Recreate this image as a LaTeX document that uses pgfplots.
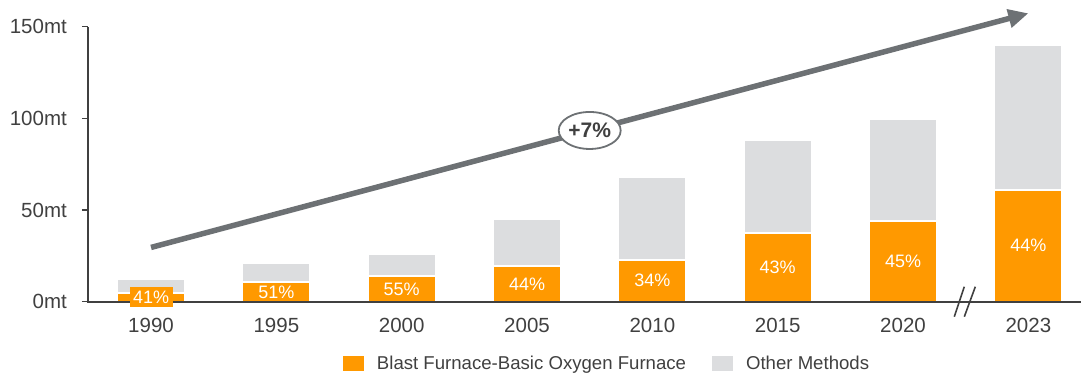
\documentclass[border=0pt]{standalone}
\usepackage{fontspec}
\setmainfont{Liberation Sans}
\usepackage{pgfplots}
\pgfplotsset{compat=1.18}
\usetikzlibrary{arrows.meta,shapes.geometric}
\definecolor{bforange}{HTML}{FF9900}
\definecolor{othgrey}{HTML}{DCDDDF}
\definecolor{axgrey}{HTML}{404040}
\definecolor{arrowgrey}{HTML}{6D7174}
\definecolor{txt}{HTML}{404040}
\begin{document}
\begin{tikzpicture}
\useasboundingbox (-88pt,-74.3pt) rectangle (993pt,301.7pt);
\begin{axis}[
  scale only axis, width=993pt, height=275pt,
  xmin=-0.503, xmax=7.42, ymin=0, ymax=150,
  axis x line=bottom, axis y line=left,
  axis line style={-, draw=axgrey, line width=1.6pt},
  clip=false,
  ybar stacked, bar width=0.542,
  xtick={0,1,2,3,4,5,6,7},
  xticklabels={1990,1995,2000,2005,2010,2015,2020,2023},
  xtick style={draw=none},
  ytick={0,50,100,150},
  yticklabels={0mt,50mt,100mt,150mt},
  tick align=outside, major tick length=6pt,
  ytick style={draw=axgrey, line width=1.4pt},
  tick label style={font=\fontsize{20.5}{24}\selectfont, text=txt, inner sep=0pt},
  yticklabel style={xshift=-15pt},
  xticklabel style={yshift=-10pt},
  legend columns=2,
  legend style={at={(0.5217,-0.224)}, anchor=center, draw=none, fill=none,
    font=\fontsize{18.6}{22}\selectfont, text=txt, inner sep=0pt,
    /tikz/every odd column/.append style={column sep=9pt},
    /tikz/every even column/.append style={column sep=22pt}},
]
\addplot[fill=bforange, draw=white, line width=2pt,
  legend image code/.code={\path[fill=bforange] (0pt,-8.5pt) rectangle (23pt,8.5pt);}]
  coordinates {(0,5.0) (1,10.6) (2,14.0) (3,19.5) (4,23.0) (5,37.5) (6,44.2) (7,61.0)};
\addlegendentry{Blast Furnace-Basic Oxygen Furnace}
\addplot[fill=othgrey, draw=white, line width=2pt,
  legend image code/.code={\path[fill=othgrey] (0pt,-8.5pt) rectangle (23pt,8.5pt);}]
  coordinates {(0,7.2) (1,10.7) (2,12.0) (3,25.6) (4,45.2) (5,50.7) (6,55.3) (7,79.0)};
\addlegendentry{Other Methods}
\coordinate (p0) at (axis cs:0,2.5);
\coordinate (p1) at (axis cs:1,5.3);
\coordinate (p2) at (axis cs:2,7.0);
\coordinate (p3) at (axis cs:3,9.75);
\coordinate (p4) at (axis cs:4,11.5);
\coordinate (p5) at (axis cs:5,18.75);
\coordinate (p6) at (axis cs:6,22.1);
\coordinate (p7) at (axis cs:7,30.5);
\coordinate (brk) at (axis cs:6.497,0);
\coordinate (xl) at (axis cs:-0.503,0);
\coordinate (xr) at (axis cs:7.42,0);
\coordinate (a0) at (axis cs:0,29.6);
\coordinate (a1) at (axis cs:7.0,157.3);
\coordinate (el) at (axis cs:3.5,93.4);
\end{axis}
\draw[axgrey, line width=1.6pt] ([xshift=-0.8pt]xl) -- (xr);
\begin{scope}[every node/.style={text=white, font=\fontsize{18}{22}\selectfont, inner sep=0pt}]
\node at (p1) {51\%};
\node at (p2) {55\%};
\node at (p3) {44\%};
\node at (p4) {34\%};
\node at (p5) {43\%};
\node at (p6) {45\%};
\node at (p7) {44\%};
\end{scope}
\node[fill=bforange, text=white, font=\fontsize{18}{22}\selectfont,
  minimum width=43pt, minimum height=20pt, inner sep=0pt] at (p0) {41\%};
\draw[arrowgrey, line width=5.5pt, -{Triangle[length=20pt,width=18pt]}] (a0) -- (a1);
\node[ellipse, draw=arrowgrey, fill=white, line width=1.8pt, minimum width=62pt,
  minimum height=37pt, inner sep=0pt, text=txt,
  font=\bfseries\fontsize{21}{25}\selectfont] at (el) {+7\%};
\draw[axgrey, line width=1.6pt] ([xshift=-11pt,yshift=-15pt]brk) -- ([xshift=-1pt,yshift=15pt]brk);
\draw[axgrey, line width=1.6pt] ([xshift=-1pt,yshift=-15pt]brk) -- ([xshift=10pt,yshift=15pt]brk);
\end{tikzpicture}
\end{document}
